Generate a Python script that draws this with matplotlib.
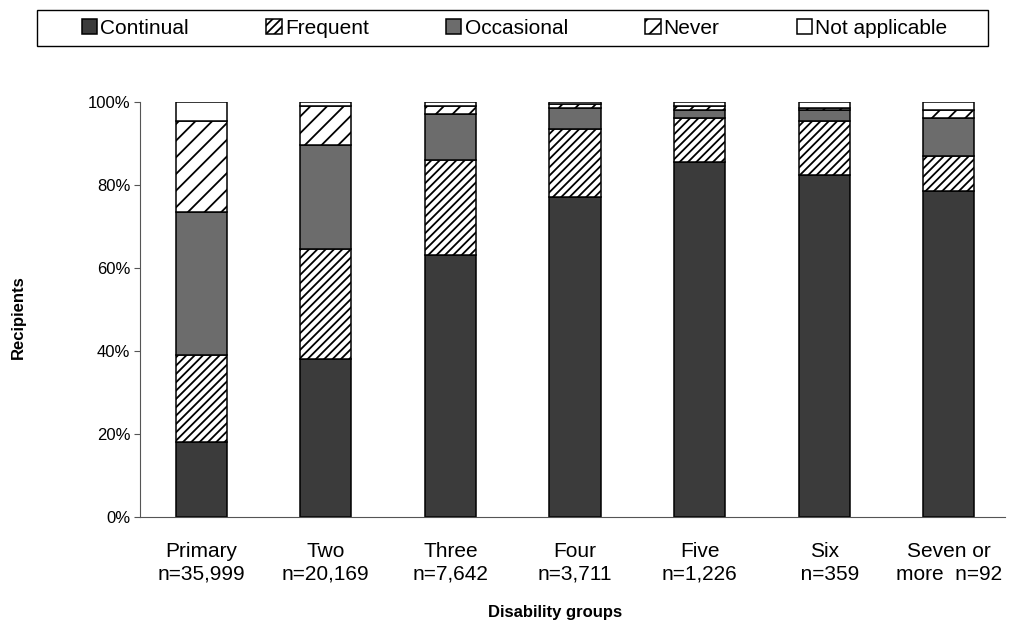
import matplotlib
matplotlib.use("Agg")
import matplotlib.pyplot as plt
from matplotlib.patches import Rectangle
import numpy as np

plt.rcParams["font.family"] = ["Liberation Sans", "DejaVu Sans"]
plt.rcParams["hatch.linewidth"] = 1.3

# Data (percent of recipients)
groups = ["Primary\nn=35,999", "Two\nn=20,169", "Three\nn=7,642", "Four\nn=3,711",
          "Five\nn=1,226", "Six\n  n=359", "Seven or\nmore  n=92"]
continual = [18, 38, 63, 77, 85.5, 82.5, 78.5]
frequent = [21, 26.5, 23, 16.5, 10.5, 13, 8.5]
occasional = [34.5, 25, 11, 5, 2, 2.5, 9]
never = [22, 9.5, 2, 1, 1, 0.5, 2]
not_applicable = [4.5, 1, 1, 0.5, 1, 1.5, 2]

series = [
    ("Continual", continual, "#3b3b3b", None),
    ("Frequent", frequent, "white", "////"),
    ("Occasional", occasional, "#6c6c6c", None),
    ("Never", never, "white", "//"),
    ("Not applicable", not_applicable, "white", None),
]

fig = plt.figure(figsize=(10.17, 6.28), dpi=100)
ax = fig.add_axes([0.1377, 0.1768, 0.8505, 0.661])

x = np.arange(len(groups))
bottom = np.zeros(len(groups))
for name, vals, color, hatch in series:
    ax.bar(x, vals, 0.41, bottom=bottom, color=color, edgecolor="black",
           linewidth=1.1, hatch=hatch, label=name)
    bottom += np.array(vals)

ax.set_xlim(-0.49, 6.45)
ax.set_ylim(0, 100)
ax.set_yticks(range(0, 101, 20))
ax.set_yticklabels([f"{v}%" for v in range(0, 101, 20)], fontsize=12)
ax.set_xticks(x)
ax.set_xticklabels(groups, fontsize=15, linespacing=1.25)
ax.tick_params(axis="x", length=0, pad=18)
ax.tick_params(axis="y", length=4, direction="out", pad=3, color="#555555")

for s in ["top", "right"]:
    ax.spines[s].set_visible(False)
ax.spines["left"].set_color("#555555")
ax.spines["bottom"].set_color("#555555")

fig.text(0.018, 0.495, "Recipients", rotation=90, fontsize=12, fontweight="bold",
         ha="center", va="center")
fig.text(0.546, 0.025, "Disability groups", fontsize=12, fontweight="bold",
         ha="center", va="center")

# legend with its own frame box
leg = fig.legend(loc="center", bbox_to_anchor=(0.506, 0.955), ncol=5, fontsize=15,
                 frameon=False, handlelength=0.75, handleheight=0.75,
                 handletextpad=0.15, columnspacing=3.7, borderaxespad=0)
fig.add_artist(Rectangle((37 / 1017, 1 - 46 / 628), 951 / 1017, 36 / 628,
                         transform=fig.transFigure, fill=False,
                         edgecolor="black", linewidth=1.0))

fig.savefig("out.png", dpi=100)
